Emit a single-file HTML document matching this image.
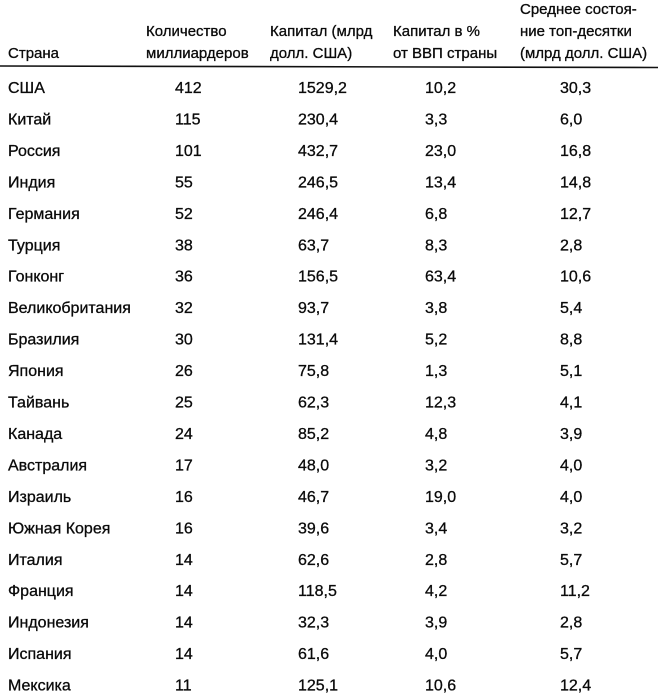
<!DOCTYPE html>
<html><head><meta charset="utf-8">
<style>
html,body{margin:0;padding:0;background:#fff;}
svg{display:block;}
text{font-family:"Liberation Sans","DejaVu Sans",sans-serif;fill:#0a0a0a;stroke:#0a0a0a;stroke-width:0.3px;}
.h{font-size:15px;}
.b{font-size:16px;}
</style></head>
<body>
<svg width="664" height="698" viewBox="0 0 664 698" xmlns="http://www.w3.org/2000/svg">
<rect width="664" height="698" fill="#fff"/>
<g class="h">
<text x="8" y="58">Страна</text>
<text x="146" y="36">Количество</text>
<text x="146" y="58">миллиардеров</text>
<text x="270" y="36">Капитал (млрд</text>
<text x="270" y="58">долл. США)</text>
<text x="393" y="36">Капитал в %</text>
<text x="393" y="58">от ВВП страны</text>
<text x="520" y="14">Среднее состоя-</text>
<text x="520" y="36">ние топ-десятки</text>
<text x="520" y="58">(млрд долл. США)</text>
</g>
<line x1="0" y1="66" x2="658" y2="67.5" stroke="#111" stroke-width="1.6"/>
<g class="b">
<text x="8" y="93">США</text><text x="175" y="93">412</text><text x="298" y="93">1529,2</text><text x="425" y="93">10,2</text><text x="560" y="93">30,3</text>
<text x="8" y="124.5">Китай</text><text x="175" y="124.5">115</text><text x="298" y="124.5">230,4</text><text x="425" y="124.5">3,3</text><text x="560" y="124.5">6,0</text>
<text x="8" y="155.9">Россия</text><text x="175" y="155.9">101</text><text x="298" y="155.9">432,7</text><text x="425" y="155.9">23,0</text><text x="560" y="155.9">16,8</text>
<text x="8" y="187.4">Индия</text><text x="175" y="187.4">55</text><text x="298" y="187.4">246,5</text><text x="425" y="187.4">13,4</text><text x="560" y="187.4">14,8</text>
<text x="8" y="218.8">Германия</text><text x="175" y="218.8">52</text><text x="298" y="218.8">246,4</text><text x="425" y="218.8">6,8</text><text x="560" y="218.8">12,7</text>
<text x="8" y="250.3">Турция</text><text x="175" y="250.3">38</text><text x="298" y="250.3">63,7</text><text x="425" y="250.3">8,3</text><text x="560" y="250.3">2,8</text>
<text x="8" y="281.7">Гонконг</text><text x="175" y="281.7">36</text><text x="298" y="281.7">156,5</text><text x="425" y="281.7">63,4</text><text x="560" y="281.7">10,6</text>
<text x="8" y="313.2">Великобритания</text><text x="175" y="313.2">32</text><text x="298" y="313.2">93,7</text><text x="425" y="313.2">3,8</text><text x="560" y="313.2">5,4</text>
<text x="8" y="344.6">Бразилия</text><text x="175" y="344.6">30</text><text x="298" y="344.6">131,4</text><text x="425" y="344.6">5,2</text><text x="560" y="344.6">8,8</text>
<text x="8" y="376.1">Япония</text><text x="175" y="376.1">26</text><text x="298" y="376.1">75,8</text><text x="425" y="376.1">1,3</text><text x="560" y="376.1">5,1</text>
<text x="8" y="407.5">Тайвань</text><text x="175" y="407.5">25</text><text x="298" y="407.5">62,3</text><text x="425" y="407.5">12,3</text><text x="560" y="407.5">4,1</text>
<text x="8" y="439">Канада</text><text x="175" y="439">24</text><text x="298" y="439">85,2</text><text x="425" y="439">4,8</text><text x="560" y="439">3,9</text>
<text x="8" y="470.4">Австралия</text><text x="175" y="470.4">17</text><text x="298" y="470.4">48,0</text><text x="425" y="470.4">3,2</text><text x="560" y="470.4">4,0</text>
<text x="8" y="501.9">Израиль</text><text x="175" y="501.9">16</text><text x="298" y="501.9">46,7</text><text x="425" y="501.9">19,0</text><text x="560" y="501.9">4,0</text>
<text x="8" y="533.3">Южная Корея</text><text x="175" y="533.3">16</text><text x="298" y="533.3">39,6</text><text x="425" y="533.3">3,4</text><text x="560" y="533.3">3,2</text>
<text x="8" y="564.8">Италия</text><text x="175" y="564.8">14</text><text x="298" y="564.8">62,6</text><text x="425" y="564.8">2,8</text><text x="560" y="564.8">5,7</text>
<text x="8" y="596.2">Франция</text><text x="175" y="596.2">14</text><text x="298" y="596.2">118,5</text><text x="425" y="596.2">4,2</text><text x="560" y="596.2">11,2</text>
<text x="8" y="627.7">Индонезия</text><text x="175" y="627.7">14</text><text x="298" y="627.7">32,3</text><text x="425" y="627.7">3,9</text><text x="560" y="627.7">2,8</text>
<text x="8" y="659.1">Испания</text><text x="175" y="659.1">14</text><text x="298" y="659.1">61,6</text><text x="425" y="659.1">4,0</text><text x="560" y="659.1">5,7</text>
<text x="8" y="690.6">Мексика</text><text x="175" y="690.6">11</text><text x="298" y="690.6">125,1</text><text x="425" y="690.6">10,6</text><text x="560" y="690.6">12,4</text>
</g>
</svg>
</body></html>
